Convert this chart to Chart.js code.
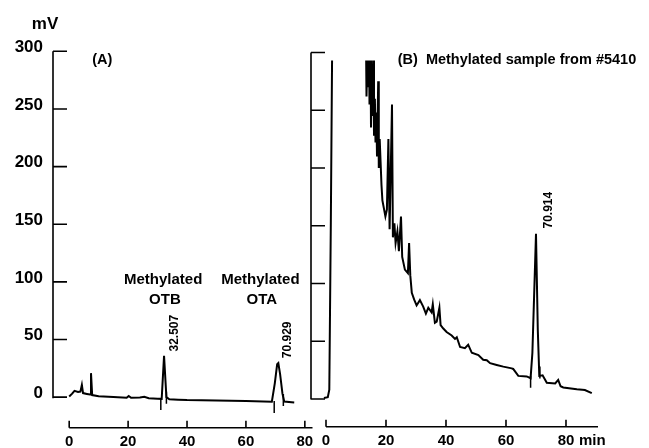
<!DOCTYPE html>
<html>
<head>
<meta charset="utf-8">
<script src="https://cdn.jsdelivr.net/npm/chart.js@4"></script>
<style>
  body { margin: 0; background: #fff; }
  #wrap { position: relative; width: 649px; height: 448px; }
  canvas { position: absolute; top: 0; }
</style>
</head>
<body>
<div id="wrap">
  <canvas id="chartA" width="320" height="448" style="left:0"></canvas>
  <canvas id="chartB" width="349" height="448" style="left:300px"></canvas>
</div>
<script>
// (A) methylated standards
const aTime   = [0, 1, 1.8, 3, 3.8, 4.3, 4.7, 6, 7.1, 7.4, 7.8, 10, 15, 19.5, 20.2, 21, 24, 25.5, 27, 30, 31.4, 32.2, 33.0, 34, 37, 40, 50, 60, 68.8, 69.8, 70.6, 71.0, 71.6, 72.4, 73.0, 76.4];
const aSignal = [0.5, 3, 5.5, 4.5, 4.8, 10.7, 3.5, 2.8, 2.2, 20.8, 1.8, 0.8, 0.2, -0.6, 1, -0.6, -0.3, 0.3, -0.9, -1.3, -1.5, 35.8, 0, -1.8, -2.2, -2.5, -2.9, -3.3, -4.0, 12, 28.5, 29.5, 20, 3, -3.8, -4.6];
const aMarkTime   = [31.1, 33.0, 69.6, 72.7];
const aMarkSignal = [-6, -0.5, -8.5, -2.5];

// (B) methylated sample from #5410
const bTime   = [-0.7, 0.6, 1.1, 1.6, 2.1, 13.3, 13.5, 13.8, 14.0, 14.3, 14.5, 14.8, 15.0, 15.3, 15.5, 15.8, 16.0, 16.3, 16.5, 16.8, 17.0, 17.4, 17.6, 17.9, 18.2, 18.5, 18.8, 19.3, 19.8, 20.3, 20.8, 21.2, 21.6, 22.0, 22.3, 22.8, 23.2, 23.8, 24.3, 25.0, 25.4, 26.3, 27.3, 27.7, 28.1, 28.6, 29.4, 30.2, 31.3, 32.4, 33.3, 34.1, 35.2, 35.6, 36.3, 36.9, 37.8, 38.2, 39.1, 40.2, 41.9, 43, 43.6, 44.7, 46.3, 47.4, 48.6, 50.8, 52.4, 53.6, 54.7, 56.9, 59.1, 61.9, 62.4, 64.1, 66.9, 68.2, 68.8, 70.0, 70.6, 71.1, 72.2, 73.6, 76.4, 77.4, 78.2, 79.1, 83.6, 86.3, 88.6];
const bSignal = [0.9, 1.5, 8, 150, 320, 320, 262, 300, 270, 320, 255, 320, 235, 290, 245, 320, 228, 260, 222, 248, 210, 275, 200, 225, 205, 185, 172, 165, 158, 164, 225, 147, 200, 255, 140, 152, 135, 145, 128, 158, 123, 112, 109, 135, 107, 92, 86, 81, 85.6, 80, 74, 79, 75, 82, 66, 67, 79, 64, 61, 58, 55, 52, 53.5, 45, 44, 47, 40, 38, 34, 33.5, 31, 29.5, 28, 26.5, 26, 20, 19.5, 18, 40, 143, 60, 20, 20.5, 14, 13.5, 16.5, 11, 10, 8.4, 7.8, 5];
const bMarkTime   = [68.2, 71.3];
const bMarkSignal = [15, 23];

const xTicks = [0, 20, 40, 60, 80];
const yTicks = [0, 50, 100, 150, 200, 250, 300];

Chart.defaults.font.family = '"Liberation Sans", Arial, sans-serif';
Chart.defaults.color = '#000';

const toXY = (xs, ys) => xs.map((x, i) => ({ x: x, y: ys[i] }));

// axis frame + text notes, drawn through the chart's own scales
const frame = {
  id: 'frame',
  afterDraw(chart, args, o) {
    const { ctx, chartArea: area, scales: { x, y } } = chart;
    ctx.save();
    ctx.strokeStyle = '#000';
    ctx.lineWidth = 1.6;
    ctx.beginPath();
    ctx.moveTo(area.left, y.getPixelForValue(300));
    ctx.lineTo(area.left, y.getPixelForValue(o.yEnd));
    yTicks.forEach(v => {
      const p = y.getPixelForValue(v);
      ctx.moveTo(area.left, p);
      ctx.lineTo(area.left + 14, p);
    });
    ctx.moveTo(x.getPixelForValue(0), area.bottom);
    ctx.lineTo(area.right, area.bottom);
    xTicks.forEach(v => {
      const p = x.getPixelForValue(v);
      ctx.moveTo(p, area.bottom);
      ctx.lineTo(p, area.bottom - 7);
    });
    ctx.stroke();

    ctx.fillStyle = '#000';
    ctx.textBaseline = 'middle';
    o.notes.forEach(n => {
      const px = x.getPixelForValue(n.x);
      const py = n.below ? area.bottom + 14 : y.getPixelForValue(n.y);
      ctx.font = 'bold ' + n.size + 'px "Liberation Sans", Arial, sans-serif';
      ctx.textAlign = n.align || 'center';
      if (n.rot) {
        ctx.save();
        ctx.translate(px, py);
        ctx.rotate(-Math.PI / 2);
        ctx.fillText(n.text, 0, 0);
        ctx.restore();
      } else {
        ctx.fillText(n.text, px, py);
      }
    });
    ctx.restore();
  }
};

function panel(canvas, p) {
  return new Chart(canvas.getContext('2d'), {
    type: 'line',
    data: {
      datasets: [{
        data: toXY(p.time, p.signal),
        borderColor: '#000',
        borderWidth: 2,
        pointRadius: 0,
        tension: 0,
        clip: { left: 0, top: -8, right: 0, bottom: 0 }
      }, {
        data: toXY(p.markTime, p.markSignal),
        showLine: false,
        pointStyle: 'line',
        rotation: 90,
        pointRadius: 6,
        borderColor: '#000',
        borderWidth: 1.5
      }]
    },
    options: {
      responsive: false,
      devicePixelRatio: 1,
      animation: false,
      events: [],
      layout: { padding: p.padding },
      plugins: {
        legend: { display: false },
        tooltip: { enabled: false },
        frame: { yEnd: p.yEnd, notes: p.notes }
      },
      scales: {
        x: {
          type: 'linear',
          min: p.xMin,
          max: p.xMax,
          grid: { display: false, drawTicks: false },
          border: { display: false },
          afterBuildTicks: s => { s.ticks = xTicks.map(v => ({ value: v })); },
          afterFit: s => { s.height = p.xHeight; },
          ticks: {
            autoSkip: false,
            maxRotation: 0,
            padding: 5,
            font: { size: 15, weight: 'bold' }
          }
        },
        y: {
          min: p.yMin,
          max: 300,
          grid: { display: false, drawTicks: false },
          border: { display: false },
          afterBuildTicks: s => { s.ticks = yTicks.map(v => ({ value: v })); },
          afterFit: s => { s.width = p.yWidth; },
          ticks: {
            display: p.yLabels,
            padding: 10,
            labelOffset: -4,
            font: { size: 17, weight: 'bold' }
          }
        }
      }
    },
    plugins: [frame]
  });
}

panel(document.getElementById('chartA'), {
  time: aTime, signal: aSignal, markTime: aMarkTime, markSignal: aMarkSignal,
  xMin: -5.5, xMax: 82.6, yMin: -26.6, yEnd: -1,
  padding: { top: 51.3, right: 6, left: 0, bottom: 0 },
  xHeight: 20, yWidth: 53, yLabels: true,
  notes: [
    { text: 'mV', x: -8.2, y: 323.7, size: 17 },
    { text: '(A)', x: 11.2, y: 292.5, size: 14.5 },
    { text: 'Methylated', x: 31.9, y: 101.7, size: 15 },
    { text: 'OTB', x: 32.5, y: 84.4, size: 15 },
    { text: 'Methylated', x: 64.9, y: 101.7, size: 15 },
    { text: 'OTA', x: 65.4, y: 84.4, size: 15 },
    { text: '32.507', x: 35.9, y: 55.5, size: 12, rot: true },
    { text: '70.929', x: 74.1, y: 49.7, size: 12, rot: true }
  ]
});

panel(document.getElementById('chartB'), {
  time: bTime, signal: bSignal, markTime: bMarkTime, markSignal: bMarkSignal,
  xMin: -5, xMax: 90.67, yMin: -24, yEnd: -0.5,
  padding: { top: 52.5, right: 51, left: 0, bottom: 0 },
  xHeight: 21.3, yWidth: 11, yLabels: false,
  notes: [
    { text: '(B)  Methylated sample from #5410', x: 23.9, y: 293.3, size: 14.5, align: 'left' },
    { text: '70.914', x: 74.1, y: 163.5, size: 12, rot: true },
    { text: 'min', x: 84.3, below: true, size: 15, align: 'left' }
  ]
});
</script>
</body>
</html>
